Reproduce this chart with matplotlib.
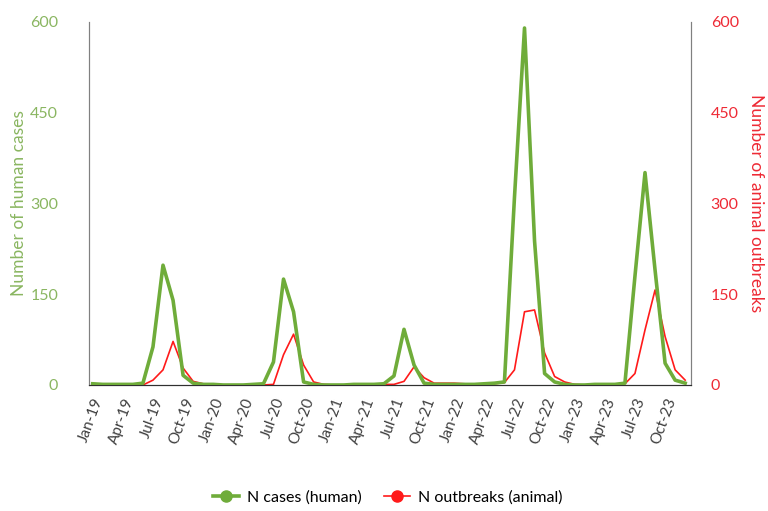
"""Monthly human cases vs animal outbreaks, Jan-2019 to Dec-2023."""
import matplotlib
matplotlib.use("Agg")
import matplotlib.pyplot as plt
import numpy as np

plt.rcParams["font.family"] = ["Lato", "DejaVu Sans"]

# month labels (Jan-19 .. Dec-23)
months = [f"{m}-{y}" for y in range(19, 24)
          for m in ["Jan", "Feb", "Mar", "Apr", "May", "Jun",
                    "Jul", "Aug", "Sep", "Oct", "Nov", "Dec"]]

human_cases = [2, 1, 1, 1, 1, 3, 63, 198, 140, 16, 3, 1,
               1, 0, 0, 0, 1, 2, 38, 175, 121, 5, 1, 0,
               0, 0, 1, 1, 1, 2, 15, 92, 33, 3, 1, 1,
               1, 1, 1, 2, 3, 5, 310, 590, 238, 19, 5, 1,
               0, 0, 1, 1, 1, 3, 180, 351, 190, 36, 8, 3]

animal_outbreaks = [0, 0, 0, 0, 0, 0, 8, 25, 72, 28, 6, 2,
                    1, 0, 0, 0, 0, 0, 1, 50, 84, 33, 5, 1,
                    0, 0, 0, 0, 0, 1, 1, 6, 30, 12, 3, 3,
                    3, 2, 1, 1, 2, 4, 25, 121, 124, 53, 14, 5,
                    1, 0, 0, 0, 1, 2, 19, 91, 157, 80, 25, 8]

GREEN = "#6FAC3A"
GREEN_TXT = "#8AB661"
RED = "#FF1A1A"
RED_TXT = "#EE2A35"

fig = plt.figure(figsize=(7.68, 5.11), dpi=100)
ax = fig.add_axes([0.1155, 0.2466, 0.7845, 0.7104])
ax2 = ax.twinx()

x = np.arange(len(months))
ax.plot(x, human_cases, color=GREEN, linewidth=2.6, zorder=3)
ax2.plot(x, animal_outbreaks, color=RED, linewidth=1.2, zorder=2)
ax.set_zorder(ax2.get_zorder() + 1)
ax.patch.set_visible(False)

for a in (ax, ax2):
    a.set_ylim(0, 600)
    a.set_yticks([0, 150, 300, 450, 600])
    a.set_xlim(-0.4, 59.6)
    a.spines["top"].set_visible(False)
    a.spines["left"].set_color("#808080")
    a.spines["right"].set_color("#808080")
    a.spines["bottom"].set_color("#303030")
    a.tick_params(length=0)

ax.tick_params(axis="y", labelcolor=GREEN_TXT, labelsize=11.5, pad=22)
ax2.tick_params(axis="y", labelcolor=RED_TXT, labelsize=11.5, pad=14)
ax.set_ylabel("Number of human cases", color=GREEN_TXT, fontsize=12.5, labelpad=2)
ax2.set_ylabel("Number of animal outbreaks", color=RED_TXT, fontsize=12.5,
               rotation=270, labelpad=18)

ax.set_xticks(x[::3])
ax.set_xticklabels(months[::3], rotation=70, ha="right", rotation_mode="anchor",
                   fontsize=11, color="#404040")
ax.tick_params(axis="x", pad=8)

leg_h1 = plt.Line2D([], [], color=GREEN, linewidth=2.6, marker="o", markersize=8)
leg_h2 = plt.Line2D([], [], color=RED, linewidth=1.2, marker="o", markersize=8)
fig.legend([leg_h1, leg_h2], ["N cases (human)", "N outbreaks (animal)"],
           loc="center", bbox_to_anchor=(0.505, 0.027), ncol=2, frameon=False,
           fontsize=11.5, handlelength=1.6, columnspacing=1.4, handletextpad=0.5)

fig.savefig("out.png", dpi=100)
